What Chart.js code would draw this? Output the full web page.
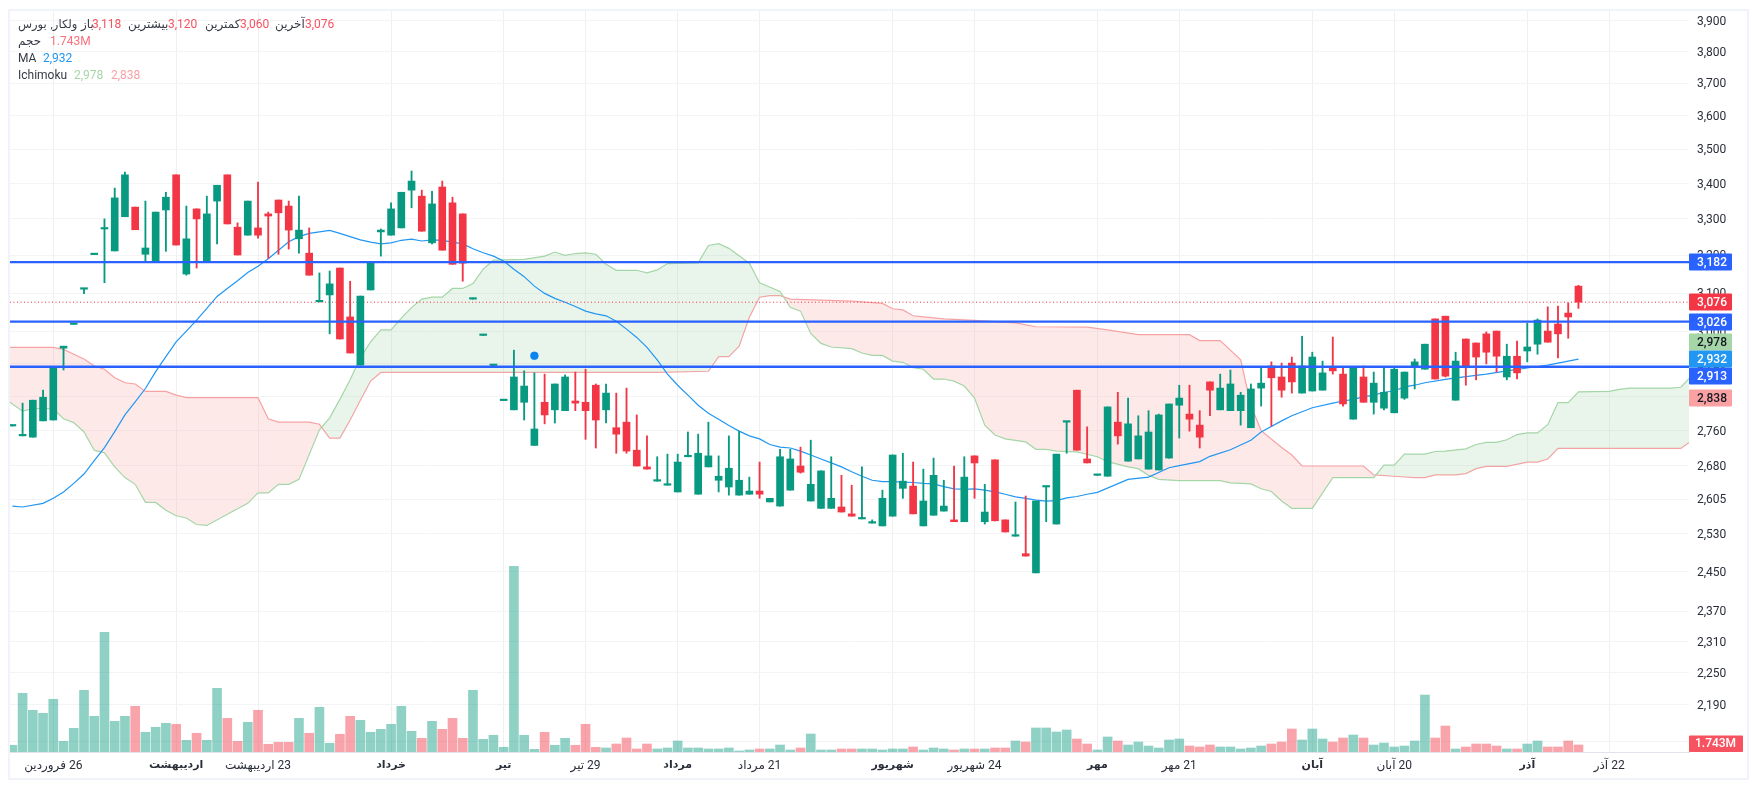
<!DOCTYPE html>
<html lang="fa">
<head>
<meta charset="utf-8">
<title>ولکار</title>
<script src="https://cdn.jsdelivr.net/npm/chart.js@4/dist/chart.umd.min.js"></script>
<style>
html,body{margin:0;padding:0;background:#fff;width:1757px;height:790px;overflow:hidden;}
#frame{position:absolute;left:8px;top:9px;width:1741px;height:771px;border:2px solid #f0f3fa;box-sizing:border-box;pointer-events:none;}
canvas{position:absolute;left:0;top:0;}
.t{position:absolute;font:12px Roboto,"DejaVu Sans",sans-serif;color:#363a45;white-space:nowrap;line-height:16px;}
.r{color:#f7525f}.b{color:#2196f3}.g{color:#a5d6a7}.p{color:#faa1a4}.v{color:#f7727c}
</style>
</head>
<body>
<canvas id="c" width="1757" height="790"></canvas>
<div id="frame"></div>
<span class="t" dir="rtl" style="left:18px;top:16px;font-size:11.5px;word-spacing:1px">ولکار, بورس</span>
<span class="t" dir="rtl" style="left:81px;top:16px">باز</span>
<span class="t r" style="left:92px;top:16px">3,118</span>
<span class="t" dir="rtl" style="left:128px;top:16px">بیشترین</span>
<span class="t r" style="left:168px;top:16px">3,120</span>
<span class="t" dir="rtl" style="left:205px;top:16px">کمترین</span>
<span class="t r" style="left:240px;top:16px">3,060</span>
<span class="t" dir="rtl" style="left:275px;top:16px">آخرین</span>
<span class="t r" style="left:305px;top:16px">3,076</span>
<span class="t" dir="rtl" style="left:18px;top:33px">حجم</span>
<span class="t v" style="left:50px;top:33px">1.743M</span>
<span class="t" style="left:18px;top:50px">MA</span>
<span class="t b" style="left:43px;top:50px">2,932</span>
<span class="t" style="left:18px;top:67px">Ichimoku</span>
<span class="t g" style="left:74px;top:67px">2,978</span>
<span class="t p" style="left:111px;top:67px">2,838</span>
<script>
const firstBar = -4;
const opens = [
2771,2748,2745,2783,2785,2959,3019,3110,3202,3272,
3212,3306,3333,3203,3182,3325,3425,3150,3328,3182,
3350,3425,3277,3255,3275,3314,3353,3336,3245,3206,
3077,3095,3166,3038,2917,3108,3264,3255,3275,3381,
3364,3234,3390,3345,3314,3084,2991,2916,2831,2809,
2827,2726,2827,2809,2807,2830,2827,2868,2809,2767,
2780,2715,2677,2645,2636,2621,2700,2616,2677,2647,
2632,2614,2616,2623,2599,2590,2625,2679,2601,2585,
2585,2588,2573,2562,2553,2547,2568,2629,2634,2547,
2570,2579,2560,2556,2702,2556,2693,2560,2525,2488,
2448,2632,2551,2780,2856,2695,2658,2656,2780,2690,
2695,2672,2670,2697,2820,2799,2773,2876,2809,2807,
2807,2767,2861,2915,2888,2922,2849,2854,2856,2912,
2895,2787,2888,2827,2813,2802,2837,2912,2907,3033,
3040,2832,2982,2972,2995,3002,2888,2939,2952,2969,
3002,3020,3048,3118];
const highs = [
2771,2825,2832,2856,2912,2964,3019,3111,3202,3300,
3387,3433,3333,3350,3319,3375,3425,3336,3328,3364,
3395,3425,3289,3350,3404,3319,3353,3350,3364,3275,
3153,3158,3166,3131,3092,3182,3272,3345,3375,3436,
3381,3378,3407,3361,3314,3084,2991,2916,2831,2954,
2903,2898,2895,2871,2893,2900,2907,2871,2871,2849,
2861,2797,2748,2700,2706,2706,2757,2752,2780,2702,
2748,2759,2654,2688,2607,2717,2717,2722,2738,2668,
2700,2658,2636,2677,2560,2625,2704,2708,2688,2672,
2697,2647,2679,2700,2702,2638,2693,2560,2599,2612,
2601,2632,2706,2780,2856,2769,2658,2816,2851,2837,
2795,2807,2799,2823,2868,2868,2807,2876,2895,2905,
2851,2871,2912,2925,2922,2937,2989,2949,2927,2987,
2912,2912,2915,2900,2912,2912,2900,2932,2969,3033,
3040,2949,2982,2972,3000,3002,2969,2977,3022,3033,
3064,3066,3074,3120];
const lows = [
2771,2748,2745,2783,2785,2905,3019,3098,3202,3127,
3212,3306,3270,3182,3182,3211,3228,3147,3166,3182,
3231,3286,3201,3255,3247,3192,3203,3217,3206,3147,
3077,2995,2982,2947,2917,3108,3198,3255,3275,3331,
3266,3231,3214,3176,3131,3084,2991,2916,2831,2809,
2785,2726,2776,2778,2807,2807,2740,2720,2778,2708,
2708,2679,2672,2645,2636,2621,2700,2616,2677,2621,
2614,2614,2616,2607,2599,2590,2625,2663,2601,2585,
2585,2577,2568,2562,2553,2547,2568,2607,2573,2547,
2570,2579,2556,2556,2607,2551,2558,2534,2525,2483,
2448,2556,2551,2708,2715,2686,2658,2656,2729,2690,
2695,2672,2670,2697,2743,2759,2720,2795,2809,2807,
2773,2767,2818,2771,2839,2849,2849,2854,2856,2895,
2818,2787,2827,2799,2809,2802,2834,2859,2907,2883,
2888,2832,2868,2881,2920,2900,2881,2883,2925,2944,
2974,2935,2984,3060];
const closes = [
2771,2748,2832,2839,2912,2964,3019,3111,3202,3275,
3359,3425,3270,3220,3319,3361,3228,3245,3300,3314,
3395,3286,3201,3350,3255,3308,3317,3269,3269,3147,
3077,3124,2982,2947,3092,3182,3269,3328,3375,3407,
3266,3342,3214,3176,3179,3084,2991,2916,2831,2888,
2866,2764,2797,2871,2888,2825,2807,2785,2849,2752,
2713,2679,2672,2645,2636,2688,2700,2708,2702,2656,
2674,2647,2623,2616,2607,2700,2695,2665,2638,2668,
2607,2577,2568,2562,2553,2607,2704,2645,2573,2601,
2658,2590,2556,2654,2686,2577,2558,2534,2525,2483,
2601,2632,2706,2780,2715,2686,2658,2816,2748,2776,
2748,2757,2797,2823,2837,2787,2745,2856,2861,2871,
2844,2859,2873,2886,2856,2876,2915,2937,2898,2903,
2823,2912,2827,2873,2851,2907,2900,2925,2969,2883,
2890,2927,2912,2937,2949,2939,2939,2898,2962,3030,
2974,2995,3038,3076];
const volumesM = [
1.67,14.62,10.38,9.64,13.12,2.66,5.90,15.36,8.89,29.81,
7.64,8.89,11.38,4.91,6.15,7.15,6.90,2.91,4.66,2.91,
15.86,8.39,2.66,7.40,10.38,1.92,2.42,2.42,8.39,4.66,
11.13,2.17,4.41,8.89,7.89,4.91,5.65,6.90,11.38,5.15,
3.41,7.64,5.65,8.39,3.41,15.36,3.16,4.16,1.17,46.24,
4.16,0.67,4.91,1.67,3.41,1.67,6.90,1.17,
1.00,1.99,3.49,0.75,1.99,0.75,1.00,2.74,1.00,1.00,
0.75,0.75,1.00,0.25,0.50,0.75,0.75,1.74,0.50,1.00,
4.48,0.50,0.50,0.75,0.75,0.75,0.75,0.50,0.75,0.75,
1.25,0.50,1.00,0.75,0.50,0.75,0.75,0.75,1.00,1.00,
2.74,2.49,5.98,5.98,4.98,5.48,3.24,1.99,0.50,3.74,
2.74,1.74,2.49,1.49,1.00,2.99,3.24,1.49,
1.25,1.74,1.25,1.25,0.75,1.00,1.49,1.99,2.49,5.73,
2.99,5.73,3.24,2.49,3.49,4.23,3.49,1.74,2.24,1.25,
1.49,2.74,14.19,3.49,6.47,0.75,1.25,1.99,1.99,1.49,
0.75,0.75,1.99,2.74,1.25,1.25,2.74,1.743];

const maIdx = [-4,-3,-1,0,1,2,3,4,5,6,7,8,9,10,11,12,13,14,15,16,17,18,19,20,21,22,23,24,25,26,27,28,29,30,31,32,33,34,35,36,37,38,39,40,41,42,43,44,45,46,47,48,49,50,51,52,53,54,55,56,57,58,59,60,61,62,63,64,65,66,67,68,69,70,71,72,73,74,75,76,77,78,79,80,81,82,83,84,85,86,87,88,89,90,91,92,93,94,95,96,97,98,99,100,101,102,105,107,109,110,112,113,115,117,118,120,121,123,125,126,127,128,129,130,131,132,133,134,136,138,140,142,144,146,148,149];
const maVal = [2590,2588,2596,2607,2621,2640,2661,2691,2721,2758,2797,2828,2860,2901,2938,2975,3002,3030,3060,3091,3112,3132,3154,3171,3191,3214,3237,3251,3260,3264,3268,3260,3251,3242,3236,3231,3234,3241,3244,3239,3242,3241,3236,3231,3218,3207,3198,3185,3163,3143,3118,3099,3086,3076,3065,3053,3046,3041,3027,3007,2986,2961,2930,2895,2868,2844,2820,2801,2787,2772,2759,2748,2741,2728,2722,2720,2713,2704,2695,2686,2677,2666,2656,2647,2644,2644,2643,2642,2640,2639,2633,2628,2627,2628,2625,2621,2616,2610,2607,2603,2601,2602,2608,2611,2616,2620,2649,2654,2675,2680,2689,2701,2716,2738,2757,2783,2795,2814,2825,2830,2834,2840,2844,2851,2854,2864,2868,2874,2882,2889,2895,2903,2910,2917,2927,2932];

const spanAIdx = [-5,-4,-3,-2,0,1,2,3,4,5,6,7,8,9,10,11,12,13,14,15,17,19,20,21,22,23,24,26,27,28,29,30,31,32,33,34,35,36,37,38,39,40,41,42,43,46,48,49,50,51,52,53,54,55,57,58,59,60,63,64,65,66,68,69,71,72,73,74,75,76,78,79,80,81,82,83,84,85,86,87,88,89,90,91,92,93,95,96,97,98,100,102,103,105,106,107,108,110,114,115,117,118,119,120,121,123,125,129,130,131,132,134,135,136,138,139,140,141,142,143,144,145,146,147,148,149,152,153,154,158,159,160];
const spanAVal = [2841,2823,2806,2812,2812,2788,2779,2757,2715,2709,2677,2653,2638,2598,2598,2581,2569,2564,2550,2548,2572,2596,2619,2619,2638,2638,2649,2762,2790,2834,2881,2935,2975,3005,3005,3035,3062,3084,3089,3089,3112,3112,3125,3163,3187,3189,3198,3209,3200,3205,3207,3203,3176,3160,3160,3153,3161,3178,3180,3227,3232,3219,3179,3127,3104,3063,3053,2996,2971,2962,2958,2947,2941,2941,2927,2924,2911,2907,2883,2883,2878,2866,2837,2773,2750,2741,2734,2717,2717,2713,2711,2700,2689,2677,2673,2658,2649,2646,2646,2641,2639,2628,2622,2601,2585,2585,2653,2653,2681,2681,2706,2706,2712,2713,2718,2728,2733,2733,2739,2751,2755,2755,2774,2826,2826,2852,2853,2858,2861,2861,2863,2889];
const spanBIdx = [-5,0,1,2,3,4,5,6,7,8,9,11,12,13,20,21,22,25,26,27,28,29,30,31,32,59,64,65,66,67,68,69,70,71,72,78,81,82,83,84,85,87,90,94,96,101,103,106,111,112,114,116,117,118,120,121,122,128,129,131,133,134,135,137,138,139,140,142,144,145,146,147,159,160];
const spanBVal = [2961,2961,2956,2944,2932,2915,2907,2886,2874,2871,2853,2853,2844,2838,2838,2788,2780,2780,2775,2743,2743,2785,2832,2878,2899,2899,2902,2938,2938,2964,3037,3089,3093,3093,3084,3079,3073,3059,3056,3041,3038,3033,3029,3023,3013,3012,3005,2993,2993,2978,2978,2930,2820,2760,2721,2704,2679,2679,2659,2656,2653,2653,2659,2659,2662,2673,2678,2678,2688,2688,2695,2719,2719,2736];

const markerIdx = [47];
const markerVal = [2940];
const levelValues = [3182, 3026, 2913];
const lastPrice = 3076;
const maLast = 2932;
const ichimokuLast = [2978, 2838];
const volumeLast = 1.743;

const priceTicks = [3900,3800,3700,3600,3500,3400,3300,3200,3100,3000,2920,2840,2760,2680,2605,2530,2450,2370,2310,2250,2190,2124];
const timeTickIdx = [0,12,20,33,44,52,61,69,82,90,102,110,123,131,144,152];
const timeTickLabels = ["26 فروردین","اردیبهشت","23 اردیبهشت","خرداد","تیر","29 تیر","مرداد","21 مرداد","شهریور","24 شهریور","مهر","21 مهر","آبان","20 آبان","آذر","22 آذر"];
const timeTickMajor = [false,true,false,true,true,false,true,false,true,false,true,false,true,false,true,false];

const UP='#089981', DOWN='#f23645', UPV='rgba(8,153,129,0.45)', DOWNV='rgba(242,54,69,0.45)';
const xMin=-4.23, xMax=159.8, yMin=2104.7, yMax=3936, volMax=184.8;
const barIdx = opens.map((_,k)=>k+firstBar);
const isUp = opens.map((o,k)=>closes[k]>=o);
const pts = (idx,val)=>idx.map((x,k)=>({x,y:val[k]}));
const lineBase = {type:'line',pointRadius:0,borderWidth:1.2,tension:0,fill:false,yAxisID:'y',xAxisID:'x'};

const datasets = [
 {type:'bar',label:'حجم',order:10,yAxisID:'v',xAxisID:'x',grouped:false,barThickness:9,
  data:pts(barIdx,volumesM),backgroundColor:isUp.map(u=>u?UPV:DOWNV)},
 {...lineBase,label:'Span A',order:9,borderColor:'#a5d6a7',data:pts(spanAIdx,spanAVal),
  fill:{target:2,above:'rgba(165,214,167,0.24)',below:'rgba(250,161,164,0.24)'}},
 {...lineBase,label:'Span B',order:9,borderColor:'#faa1a4',data:pts(spanBIdx,spanBVal)},
 {...lineBase,label:'MA',order:8,borderColor:'#2196f3',data:pts(maIdx,maVal)},
 {...lineBase,label:'Last',order:7,borderWidth:1,borderColor:DOWN,borderDash:[1,2.5],data:[{x:xMin,y:lastPrice},{x:xMax,y:lastPrice}]},
 {type:'bar',label:'Wick',order:5,yAxisID:'y',xAxisID:'x',grouped:false,barThickness:1.2,minBarLength:1,
  data:barIdx.map((x,k)=>({x,y:[lows[k],highs[k]]})),backgroundColor:isUp.map(u=>u?UP:DOWN)},
 {type:'bar',label:'Body',order:4,yAxisID:'y',xAxisID:'x',grouped:false,barThickness:7,minBarLength:1.5,
  data:barIdx.map((x,k)=>({x,y:[opens[k],closes[k]]})),backgroundColor:isUp.map(u=>u?UP:DOWN)},
 ...levelValues.map(v=>({...lineBase,label:'Level '+v,order:3,borderColor:'#2962ff',borderWidth:2.3,data:[{x:xMin,y:v},{x:xMax,y:v}]})),
 {type:'scatter',label:'Marker',order:2,yAxisID:'y',xAxisID:'x',data:pts(markerIdx,markerVal),pointRadius:4,
  backgroundColor:'#0a84ee',borderColor:'rgba(10,132,238,0.35)',borderWidth:1}
];

const badges = [
 {v:levelValues[0],bg:'#2962ff',fg:'#fff',dy:0},
 {v:lastPrice,bg:'#f23645',fg:'#fff',dy:0},
 {v:levelValues[1],bg:'#2962ff',fg:'#fff',dy:0},
 {v:ichimokuLast[0],bg:'#a5d6a7',fg:'#131722',dy:1},
 {v:levelValues[2],bg:'#2962ff',fg:'#fff',dy:9},
 {v:maLast,bg:'#2196f3',fg:'#fff',dy:0},
 {v:ichimokuLast[1],bg:'#faa1a4',fg:'#131722',dy:0}
];
const badgePlugin = {
 id:'badges',
 afterDraw(chart){
  const c=chart.ctx, ys=chart.scales.y, a=chart.chartArea;
  c.save();
  c.textBaseline='middle';c.textAlign='left';
  c.font='500 12px Roboto';
  badges.forEach(b=>{
   const y=Math.round(ys.getPixelForValue(b.v))+b.dy;
   c.fillStyle=b.bg;c.beginPath();c.roundRect(a.right,y-8.5,43,17,1);c.fill();
   c.fillStyle=b.fg;c.fillText(b.v.toLocaleString('en-US'),a.right+8,y+0.5);
  });
  c.fillStyle='#f7525f';c.beginPath();c.roundRect(a.right,a.bottom-16.5,54,16.5,1);c.fill();
  c.fillStyle='#fff';c.fillText(volumeLast.toFixed(3)+'M',a.right+6,a.bottom-8);
  c.restore();
 }
};

new Chart(document.getElementById('c'),{
 data:{datasets},
 plugins:[badgePlugin],
 options:{
  responsive:false,animation:false,events:[],
  layout:{padding:{left:10,top:10,right:0,bottom:0}},
  plugins:{legend:{display:false},tooltip:{enabled:false},title:{display:false}},
  scales:{
   x:{type:'linear',min:xMin,max:xMax,position:'bottom',offset:false,
    afterFit(s){s.height=38;s.paddingLeft=0;s.paddingRight=0;},
    afterBuildTicks(s){s.ticks=timeTickIdx.map(value=>({value}));},
    grid:{color:'rgba(42,46,57,0.07)',drawTicks:false,offset:false},
    border:{display:true,color:'#e0e3eb',width:1},
    ticks:{autoSkip:false,maxRotation:0,padding:7,color:'#2a2e39',
     callback(v){return '\u200F'+timeTickLabels[timeTickIdx.indexOf(v)];},
     font(ctx){const i=timeTickIdx.indexOf(ctx.tick&&ctx.tick.value);const m=timeTickMajor[i];return {family:'Roboto,"DejaVu Sans",sans-serif',size:m?11:12,weight:m?'bold':'normal'};}
    }},
   y:{type:'logarithmic',min:yMin,max:yMax,position:'right',
    afterFit(s){s.width=68;s.paddingTop=0;s.paddingBottom=0;},
    afterBuildTicks(s){s.ticks=priceTicks.map(value=>({value}));},
    grid:{color:'#f3f4f6',drawTicks:false},
    border:{display:false},
    ticks:{autoSkip:false,padding:8,labelOffset:1,color:'#2a2e39',font:{family:'Roboto',size:12},
     callback(v){return Number(v).toLocaleString('en-US');}}},
   v:{type:'linear',display:false,min:0,max:volMax,position:'right',grid:{display:false}}
  }
 }
});
</script>
</body>
</html>
